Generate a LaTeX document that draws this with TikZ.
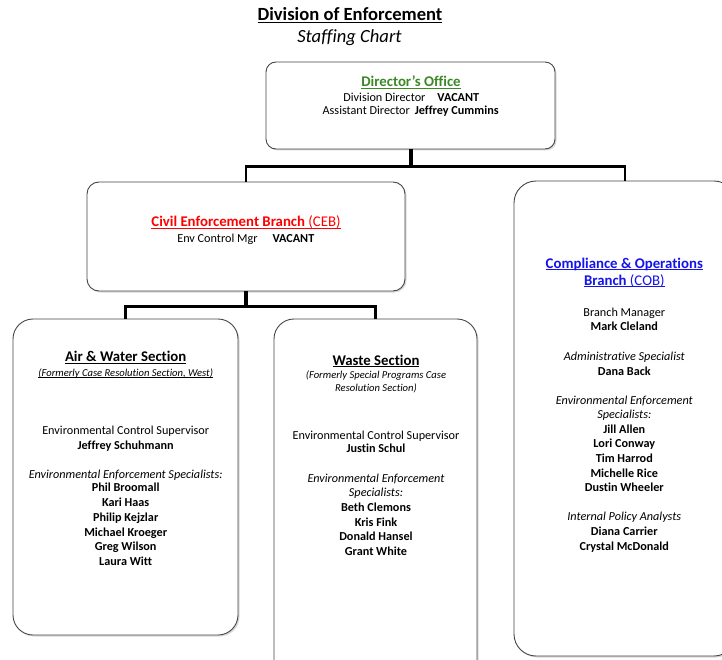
\documentclass[tikz,border=0pt]{standalone}
\usepackage{fontspec}
\setmainfont[Ligatures=NoCommon]{Carlito}
\usetikzlibrary{shadows}
\definecolor{dirgreen}{RGB}{60,136,38}
\definecolor{cebred}{RGB}{255,0,0}
\definecolor{cobblue}{RGB}{20,20,235}
\definecolor{boxline}{RGB}{70,70,70}
\newcommand{\tline}[4][]{\node[txt,#1] (#2) at (#3) {#4};}
\newcommand{\uln}[1]{\leavevmode\setbox0\hbox{#1}\rlap{\rule[-0.14em]{\wd0}{0.07em}}\box0}
\tikzset{
  box/.style={draw=boxline, line width=0.9pt, fill=white, inner sep=0pt,
    drop shadow={shadow xshift=1.5pt, shadow yshift=-1.5pt, opacity=0.3}},
  conn/.style={draw=black, line width=2.6pt, line join=miter},
  stem/.style={draw=black, line width=4pt},
  txt/.style={inner sep=0pt, anchor=base, font=\fontsize{12.2}{14}\selectfont},
  bld/.style={font=\fontsize{12.2}{14}\selectfont\bfseries},
  itl/.style={font=\fontsize{12.2}{14}\selectfont\itshape},
  head/.style={font=\fontsize{14.8}{17}\selectfont},
  sub/.style={font=\fontsize{10.6}{12}\selectfont\itshape},
}
\begin{document}
\begin{tikzpicture}[x=1pt,y=-1pt]
\useasboundingbox (0,0) rectangle (722,660);
\clip (0,0) rectangle (722,660);
\fill[white] (0,0) rectangle (722,660);

% boxes
\node[box, rounded corners=10pt, minimum width=289pt, minimum height=87pt] (dir) at (410.5,105.5) {};
\node[box, rounded corners=12pt, minimum width=318pt, minimum height=109pt] (ceb) at (246,236.5) {};
\node[box, rounded corners=22pt, minimum width=222pt, minimum height=475pt] (cob) at (625,418.5) {};
\node[box, rounded corners=20pt, minimum width=225pt, minimum height=316pt] (aw) at (125.5,477) {};
\node[box, rounded corners=20pt, minimum width=203pt, minimum height=381pt] (waste) at (375.5,509.5) {};

% connectors
\draw[stem] (dir.south) -- ++(0,17) coordinate (j1);
\draw[conn] (ceb.north) |- (j1) -| (cob.north);
\draw[stem] (ceb.south) -- ++(0,15) coordinate (j2);
\draw[conn] (aw.north) |- (j2) -| (waste.north);

% title
\tline[font=\fontsize{18.6}{22}\selectfont\bfseries]{t1}{350,20.7}{\uln{Division of Enforcement}}
\tline[font=\fontsize{18.6}{22}\selectfont\itshape]{t2}{349.5,42.7}{Staffing Chart}

% director
\tline[head, text=dirgreen]{d1}{411,86.7}{\uln{\textbf{Director’s Office}}}
\tline{d2}{411.3,101.7}{Division Director\hspace{12pt}\textbf{VACANT}}
\tline{d3}{410.7,115}{Assistant Director\hspace{5pt}\textbf{Jeffrey Cummins}}

% CEB
\tline[head, text=cebred]{c1}{246,226.7}{\uln{\textbf{Civil Enforcement Branch} (CEB)}}
\tline{c2}{245.8,242.3}{Env Control Mgr\hspace{15pt}\textbf{VACANT}}

% Air & Water
\tline[head]{a1}{125.7,361.7}{\uln{\textbf{Air \& Water Section}}}
\tline[sub]{a2}{125.7,376}{\uln{(Formerly Case Resolution Section, West)}}
\tline{a3}{125.7,434}{Environmental Control Supervisor}
\tline[bld]{a4}{125.7,449}{Jeffrey Schuhmann}
\tline[itl]{a5}{125.7,478}{Environmental Enforcement Specialists:}
\tline[bld]{a6}{125.7,491.7}{Phil Broomall}
\tline[bld]{a7}{125.7,506.7}{Kari Haas}
\tline[bld]{a8}{125.7,521.3}{Philip Kejzlar}
\tline[bld]{a9}{125.7,536}{Michael Kroeger}
\tline[bld]{a10}{125.7,550.7}{Greg Wilson}
\tline[bld]{a11}{125.7,565}{Laura Witt}

% Waste
\tline[head]{w1}{376,365}{\uln{\textbf{Waste Section}}}
\tline[sub]{w2}{376,378.3}{(Formerly Special Programs Case}
\tline[sub]{w3}{376,391}{Resolution Section)}
\tline{w4}{376,439}{Environmental Control Supervisor}
\tline[bld]{w5}{376,452.7}{Justin Schul}
\tline[itl]{w6}{376,482.3}{Environmental Enforcement}
\tline[itl]{w7}{376,496.3}{Specialists:}
\tline[bld]{w8}{376,511.7}{Beth Clemons}
\tline[bld]{w9}{376,526.3}{Kris Fink}
\tline[bld]{w10}{376,540.7}{Donald Hansel}
\tline[bld]{w11}{376,555.3}{Grant White}

% COB
\tline[head, text=cobblue]{b1}{624.3,268.3}{\uln{\textbf{Compliance \& Operations}}}
\tline[head, text=cobblue]{b2}{624.3,285}{\uln{\textbf{Branch} (COB)}}
\tline{b3}{624.3,316}{Branch Manager}
\tline[bld]{b4}{624.3,330.7}{Mark Cleland}
\tline[itl]{b5}{624.3,360}{Administrative Specialist}
\tline[bld]{b6}{624.3,375}{Dana Back}
\tline[itl]{b7}{624.3,404}{Environmental Enforcement}
\tline[itl]{b8}{624.3,418.3}{Specialists:}
\tline[bld]{b9}{624.3,433.3}{Jill Allen}
\tline[bld]{b10}{624.3,447.7}{Lori Conway}
\tline[bld]{b11}{624.3,462.7}{Tim Harrod}
\tline[bld]{b12}{624.3,477.3}{Michelle Rice}
\tline[bld]{b13}{624.3,491.7}{Dustin Wheeler}
\tline[itl]{b14}{624.3,520.7}{Internal Policy Analysts}
\tline[bld]{b15}{624.3,535}{Diana Carrier}
\tline[bld]{b16}{624.3,550}{Crystal McDonald}
\end{tikzpicture}
\end{document}
